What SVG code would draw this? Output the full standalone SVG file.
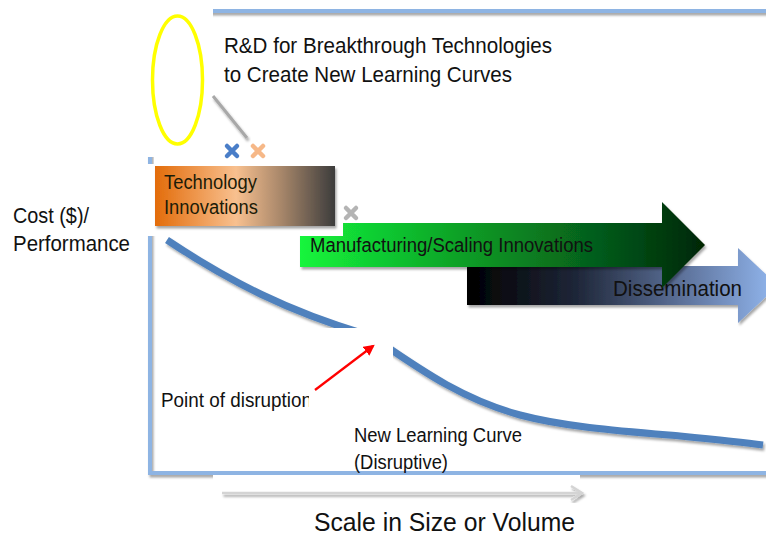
<svg xmlns="http://www.w3.org/2000/svg" width="766" height="536" viewBox="0 0 766 536">
<style>
  text { font-family: "Liberation Sans", Arial, sans-serif; fill: #111; }
  .mask { fill: #fff; stroke: none; }
  .curve { fill: none; stroke: #4F81BD; stroke-width: 7; stroke-linecap: butt; }
  .xm { fill: none; stroke-width: 4.5; stroke-linecap: round; }
</style>
<defs>
  <filter id="sh" x="-5%" y="-5%" width="115%" height="120%">
    <feDropShadow dx="1.5" dy="2.5" stdDeviation="1.3" flood-color="#000" flood-opacity="0.35"/>
  </filter>
  <linearGradient id="gTech" x1="0" y1="0" x2="1" y2="0">
    <stop offset="0" stop-color="#E36C0A"/>
    <stop offset="0.45" stop-color="#F8C08F"/>
    <stop offset="0.7" stop-color="#A8876A"/>
    <stop offset="1" stop-color="#3C3C3C"/>
  </linearGradient>
  <linearGradient id="gGreen" x1="0" y1="0" x2="1" y2="0">
    <stop offset="0" stop-color="#14F53C"/>
    <stop offset="0.4" stop-color="#0C9F26"/>
    <stop offset="0.75" stop-color="#05591A"/>
    <stop offset="1" stop-color="#012605"/>
  </linearGradient>
  <linearGradient id="gBlue" x1="0" y1="0" x2="1" y2="0">
    <stop offset="0" stop-color="#000"/>
    <stop offset="0.35" stop-color="#1E2638"/>
    <stop offset="0.7" stop-color="#5E739C"/>
    <stop offset="1" stop-color="#93B8F0"/>
  </linearGradient>
  <marker id="redHead" viewBox="0 0 10 10" refX="8" refY="5" markerWidth="5" markerHeight="5" orient="auto" markerUnits="strokeWidth">
    <path d="M0,0 L10,5 L0,10 z" fill="#FF0000"/>
  </marker>
  <clipPath id="clipPoint"><rect x="0" y="380" width="309" height="40"/></clipPath>
</defs>

<g id="frame">
  <rect x="150" y="11" width="640" height="462" fill="none" stroke="#8EB4E3" stroke-width="4" filter="url(#sh)"/>
</g>

<g id="dissemination">
  <path d="M467,266 L738,266 L738,248 L778,285.5 L738,323 L738,305 L467,305 Z" fill="url(#gBlue)" filter="url(#sh)"/>
  <text x="613" y="296" font-size="22" textLength="129" lengthAdjust="spacingAndGlyphs">Dissemination</text>
</g>

<g id="manufacturing">
  <path d="M300,223 L662,223 L662,202 L705,245 L662,288 L662,267 L300,267 Z" fill="url(#gGreen)" filter="url(#sh)"/>
  <text x="310" y="252" font-size="20" textLength="283" lengthAdjust="spacingAndGlyphs">Manufacturing/Scaling Innovations</text>
</g>

<g id="learning-curve">
  <path class="curve" d="M167,240 C230,282 290,312 365,334" filter="url(#sh)"/>
  <path class="curve" d="M380,342 C425,373 465,400 520,415 C565,427 620,431 680,436 C710,439 740,442 763,445" filter="url(#sh)"/>
</g>

<g id="masks">
  <rect class="mask" x="138" y="0" width="75" height="157"/>
  <rect class="mask" x="145" y="164" width="198" height="72"/>
  <rect class="mask" x="154" y="157" width="189" height="8"/>
  <rect class="mask" x="308" y="328" width="85" height="84"/>
  <rect class="mask" x="213" y="475" width="367" height="61"/>
</g>

<g id="rd-callout">
  <ellipse cx="177.5" cy="80" rx="25" ry="64" fill="none" stroke="#FFFF00" stroke-width="3.5"/>
  <line x1="213" y1="96" x2="247" y2="138" stroke="#A8A8A8" stroke-width="3" filter="url(#sh)"/>
  <text x="224" y="53" font-size="22" textLength="328" lengthAdjust="spacingAndGlyphs">R&amp;D for Breakthrough Technologies</text>
  <text x="224" y="82" font-size="22" textLength="288" lengthAdjust="spacingAndGlyphs">to Create New Learning Curves</text>
</g>

<g id="handles">
  <path class="xm" stroke="#4A7EC8" d="M227,146 L237,156 M237,146 L227,156"/>
  <path class="xm" stroke="#F6B888" d="M253,146 L263,156 M263,146 L253,156"/>
  <path class="xm" stroke="#B4B4B4" d="M346,208 L356,218 M356,208 L346,218"/>
</g>

<g id="tech-innovations">
  <rect x="155" y="166" width="180" height="60" fill="url(#gTech)" filter="url(#sh)"/>
  <text x="164" y="189" font-size="20" textLength="93" lengthAdjust="spacingAndGlyphs" style="fill:#1C1C08">Technology</text>
  <text x="164" y="214" font-size="20" textLength="94" lengthAdjust="spacingAndGlyphs" style="fill:#1C1C08">Innovations</text>
</g>

<g id="y-axis-label">
  <text x="13" y="223" font-size="22" textLength="76" lengthAdjust="spacingAndGlyphs">Cost ($)/</text>
  <text x="13" y="251" font-size="22" textLength="117" lengthAdjust="spacingAndGlyphs">Performance</text>
</g>

<g id="point-of-disruption">
  <text x="161" y="407" font-size="20" textLength="151" lengthAdjust="spacingAndGlyphs" clip-path="url(#clipPoint)">Point of disruption</text>
</g>

<g id="new-curve-label">
  <text x="354" y="442" font-size="20" textLength="168" lengthAdjust="spacingAndGlyphs">New Learning Curve</text>
  <text x="354" y="469" font-size="20" textLength="94" lengthAdjust="spacingAndGlyphs">(Disruptive)</text>
</g>

<g id="x-axis-label">
  <text x="314" y="531" font-size="26" textLength="261" lengthAdjust="spacingAndGlyphs">Scale in Size or Volume</text>
</g>

<g id="connectors">
  <line x1="315" y1="390" x2="373" y2="346" stroke="#FF0000" stroke-width="2.2" marker-end="url(#redHead)"/>
  <g filter="url(#sh)" stroke="#D4D4D4" stroke-width="2.5" fill="none">
    <line x1="222" y1="493" x2="581" y2="493"/>
    <polyline points="571,486 582,493 571,500"/>
  </g>
</g>
</svg>
